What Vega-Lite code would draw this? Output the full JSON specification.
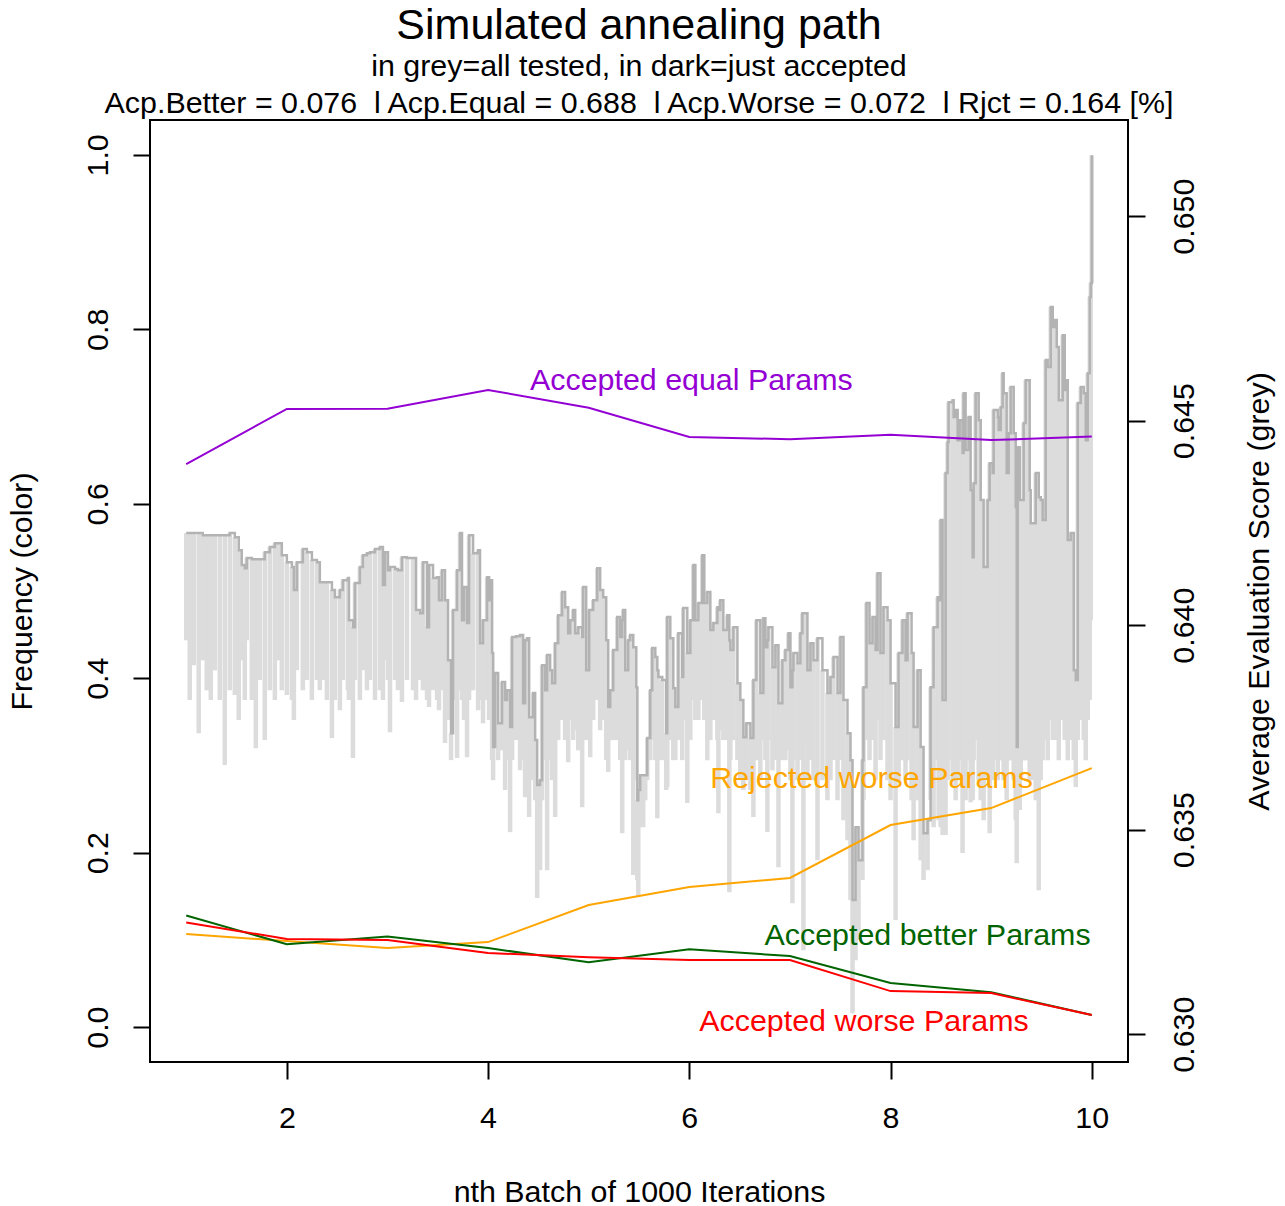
{
  "$schema": "https://vega.github.io/schema/vega-lite/v6.json",
  "width": 978,
  "height": 942,
  "autosize": "none",
  "padding": {"left": 150, "top": 120, "right": 157, "bottom": 144},
  "background": "white",
  "config": {
    "font": "Liberation Sans",
    "view": {"stroke": "black", "strokeWidth": 2},
    "axis": {"grid": false, "domain": false, "tickColor": "black", "tickWidth": 2, "tickSize": 17, "labelFont": "Liberation Sans", "labelFontSize": 30.4, "labelColor": "black", "titleFont": "Liberation Sans", "titleFontSize": 30.4, "titleFontWeight": "normal", "titleColor": "black", "labelFlush": false, "labelOverlap": false}
  },
  "title": {
    "text": "Simulated annealing path",
    "subtitle": ["in grey=all tested, in dark=just accepted", "Acp.Better = 0.076\u00a0 l Acp.Equal = 0.688\u00a0 l Acp.Worse = 0.072\u00a0 l Rjct = 0.164 [%]"],
    "font": "Liberation Sans", "fontSize": 43, "fontWeight": "normal", "color": "black",
    "subtitleFont": "Liberation Sans", "subtitleFontSize": 30.4, "subtitleColor": "black",
    "subtitleLineHeight": 37, "subtitlePadding": 4, "anchor": "middle", "frame": "group", "offset": 1
  },
  "datasets": {
    "path": [
      {"b":1.000,"acc":0.64225,"tst":0.63963},{"b":1.035,"acc":0.64225,"tst":0.63817},{"b":1.075,"acc":0.64225,"tst":0.63902},{"b":1.124,"acc":0.64225,"tst":0.63736},
      {"b":1.164,"acc":0.64220,"tst":0.63914},{"b":1.204,"acc":0.64220,"tst":0.63841},{"b":1.244,"acc":0.64220,"tst":0.63817},{"b":1.284,"acc":0.64220,"tst":0.63890},
      {"b":1.333,"acc":0.64220,"tst":0.63817},{"b":1.383,"acc":0.64220,"tst":0.63658},{"b":1.433,"acc":0.64225,"tst":0.63841},{"b":1.483,"acc":0.64215,"tst":0.63829},
      {"b":1.522,"acc":0.64183,"tst":0.63768},{"b":1.552,"acc":0.64147,"tst":0.63914},{"b":1.582,"acc":0.64139,"tst":0.63817},{"b":1.602,"acc":0.64164,"tst":0.63963},
      {"b":1.652,"acc":0.64161,"tst":0.63817},{"b":1.692,"acc":0.64161,"tst":0.63699},{"b":1.731,"acc":0.64161,"tst":0.63866},{"b":1.781,"acc":0.64178,"tst":0.63719},
      {"b":1.831,"acc":0.64191,"tst":0.63841},{"b":1.881,"acc":0.64200,"tst":0.63817},{"b":1.920,"acc":0.64200,"tst":0.63914},{"b":1.950,"acc":0.64171,"tst":0.63841},
      {"b":2.000,"acc":0.64154,"tst":0.63829},{"b":2.050,"acc":0.64142,"tst":0.63817},{"b":2.070,"acc":0.64086,"tst":0.63768},{"b":2.100,"acc":0.64154,"tst":0.63890},
      {"b":2.159,"acc":0.64186,"tst":0.63841},{"b":2.199,"acc":0.64178,"tst":0.63866},{"b":2.249,"acc":0.64159,"tst":0.63817},{"b":2.299,"acc":0.64154,"tst":0.63866},
      {"b":2.328,"acc":0.64105,"tst":0.63841},{"b":2.368,"acc":0.64105,"tst":0.63866},{"b":2.398,"acc":0.64105,"tst":0.63817},{"b":2.448,"acc":0.64086,"tst":0.63724},
      {"b":2.478,"acc":0.64068,"tst":0.63817},{"b":2.527,"acc":0.64086,"tst":0.63792},
      {"b":2.557,"acc":0.64110,"tst":0.63866},{"b":2.607,"acc":0.64115,"tst":0.63841},{"b":2.617,"acc":0.64012,"tst":0.63817},{"b":2.657,"acc":0.63995,"tst":0.63675},
      {"b":2.677,"acc":0.64103,"tst":0.63866},{"b":2.726,"acc":0.64142,"tst":0.63817},{"b":2.756,"acc":0.64171,"tst":0.63890},{"b":2.796,"acc":0.64176,"tst":0.63841},
      {"b":2.826,"acc":0.64178,"tst":0.63866},{"b":2.876,"acc":0.64186,"tst":0.63817},{"b":2.925,"acc":0.64191,"tst":0.63841},{"b":2.955,"acc":0.64098,"tst":0.63817},
      {"b":2.975,"acc":0.64178,"tst":0.63914},{"b":3.005,"acc":0.64134,"tst":0.63866},{"b":3.025,"acc":0.64142,"tst":0.63738},{"b":3.075,"acc":0.64137,"tst":0.63866},
      {"b":3.104,"acc":0.64134,"tst":0.63841},{"b":3.144,"acc":0.64166,"tst":0.63812},{"b":3.194,"acc":0.64164,"tst":0.63866},{"b":3.254,"acc":0.64164,"tst":0.63841},
      {"b":3.284,"acc":0.64037,"tst":0.63817},{"b":3.323,"acc":0.64029,"tst":0.63866},{"b":3.353,"acc":0.64154,"tst":0.63841},{"b":3.393,"acc":0.63995,"tst":0.63817},
      {"b":3.413,"acc":0.64147,"tst":0.63800},{"b":3.453,"acc":0.64115,"tst":0.63841},{"b":3.493,"acc":0.64117,"tst":0.63817},{"b":3.512,"acc":0.64061,"tst":0.63792},
      {"b":3.542,"acc":0.64134,"tst":0.63841},{"b":3.572,"acc":0.64061,"tst":0.63712},{"b":3.602,"acc":0.63914,"tst":0.63768},{"b":3.632,"acc":0.63736,"tst":0.63670},
      {"b":3.652,"acc":0.64037,"tst":0.63817},{"b":3.692,"acc":0.64134,"tst":0.63675},{"b":3.721,"acc":0.64225,"tst":0.63841},{"b":3.741,"acc":0.64012,"tst":0.63817},
      {"b":3.761,"acc":0.64093,"tst":0.63768},{"b":3.791,"acc":0.64005,"tst":0.63677},{"b":3.811,"acc":0.64220,"tst":0.63817},{"b":3.851,"acc":0.64176,"tst":0.63841},
      {"b":3.901,"acc":0.64183,"tst":0.63792},{"b":3.920,"acc":0.63956,"tst":0.63817},{"b":3.950,"acc":0.64012,"tst":0.63760},{"b":3.990,"acc":0.64117,"tst":0.63817},
      {"b":4.010,"acc":0.64061,"tst":0.63768},
      {"b":4.020,"acc":0.64110,"tst":0.63768},{"b":4.040,"acc":0.63932,"tst":0.63670},{"b":4.050,"acc":0.63702,"tst":0.63621},{"b":4.070,"acc":0.63883,"tst":0.63719},
      {"b":4.100,"acc":0.63760,"tst":0.63670},{"b":4.139,"acc":0.63861,"tst":0.63694},{"b":4.169,"acc":0.63817,"tst":0.63597},{"b":4.189,"acc":0.63841,"tst":0.63670},
      {"b":4.219,"acc":0.63751,"tst":0.63494},{"b":4.239,"acc":0.63971,"tst":0.63670},{"b":4.279,"acc":0.63973,"tst":0.63719},{"b":4.318,"acc":0.63976,"tst":0.63645},
      {"b":4.348,"acc":0.63809,"tst":0.63670},{"b":4.368,"acc":0.63963,"tst":0.63579},{"b":4.388,"acc":0.63968,"tst":0.63670},{"b":4.408,"acc":0.63775,"tst":0.63531},
      {"b":4.448,"acc":0.63834,"tst":0.63621},{"b":4.468,"acc":0.63719,"tst":0.63572},{"b":4.488,"acc":0.63609,"tst":0.63333},{"b":4.517,"acc":0.63621,"tst":0.63401},
      {"b":4.537,"acc":0.63902,"tst":0.63572},{"b":4.567,"acc":0.63841,"tst":0.63670},{"b":4.587,"acc":0.63927,"tst":0.63401},{"b":4.617,"acc":0.63890,"tst":0.63670},
      {"b":4.637,"acc":0.63858,"tst":0.63621},{"b":4.667,"acc":0.63956,"tst":0.63531},{"b":4.697,"acc":0.64024,"tst":0.63719},{"b":4.736,"acc":0.64081,"tst":0.63768},
      {"b":4.766,"acc":0.64044,"tst":0.63719},{"b":4.796,"acc":0.63980,"tst":0.63665},{"b":4.816,"acc":0.64012,"tst":0.63768},{"b":4.846,"acc":0.64037,"tst":0.63719},
      {"b":4.866,"acc":0.63980,"tst":0.63743},{"b":4.896,"acc":0.63995,"tst":0.63694},{"b":4.935,"acc":0.63971,"tst":0.63555},{"b":4.945,"acc":0.64093,"tst":0.63768},
      {"b":4.975,"acc":0.63890,"tst":0.63719},{"b":5.005,"acc":0.64037,"tst":0.63743},{"b":5.015,"acc":0.64037,"tst":0.63677},{"b":5.045,"acc":0.64061,"tst":0.63768},
      {"b":5.085,"acc":0.64139,"tst":0.63817},{"b":5.114,"acc":0.64086,"tst":0.63743},{"b":5.144,"acc":0.64068,"tst":0.63768},{"b":5.174,"acc":0.63963,"tst":0.63670},
      {"b":5.194,"acc":0.63800,"tst":0.63641},{"b":5.214,"acc":0.63841,"tst":0.63719},{"b":5.244,"acc":0.63939,"tst":0.63719},{"b":5.284,"acc":0.64020,"tst":0.63719},
      {"b":5.313,"acc":0.63971,"tst":0.63670},{"b":5.333,"acc":0.64012,"tst":0.63491},{"b":5.343,"acc":0.64037,"tst":0.63719},{"b":5.363,"acc":0.63890,"tst":0.63670},
      {"b":5.393,"acc":0.63963,"tst":0.63694},{"b":5.413,"acc":0.63976,"tst":0.63670},{"b":5.443,"acc":0.63946,"tst":0.63389},{"b":5.473,"acc":0.63848,"tst":0.63621},
      {"b":5.483,"acc":0.63572,"tst":0.63377},{"b":5.493,"acc":0.63597,"tst":0.63335},{"b":5.512,"acc":0.63633,"tst":0.63506},
      {"b":5.542,"acc":0.63633,"tst":0.63506},{"b":5.562,"acc":0.63633,"tst":0.63572},{"b":5.582,"acc":0.63724,"tst":0.63621},{"b":5.612,"acc":0.63841,"tst":0.63670},
      {"b":5.632,"acc":0.63944,"tst":0.63719},{"b":5.662,"acc":0.63922,"tst":0.63670},{"b":5.682,"acc":0.63890,"tst":0.63528},{"b":5.692,"acc":0.63873,"tst":0.63670},
      {"b":5.731,"acc":0.63866,"tst":0.63670},{"b":5.771,"acc":0.63736,"tst":0.63597},{"b":5.781,"acc":0.64020,"tst":0.63604},{"b":5.811,"acc":0.63968,"tst":0.63719},
      {"b":5.841,"acc":0.63846,"tst":0.63670},{"b":5.861,"acc":0.63800,"tst":0.63670},{"b":5.891,"acc":0.63980,"tst":0.63719},{"b":5.930,"acc":0.63873,"tst":0.63670},
      {"b":5.940,"acc":0.64042,"tst":0.63768},{"b":5.980,"acc":0.63932,"tst":0.63565},{"b":6.010,"acc":0.64012,"tst":0.63719},{"b":6.040,"acc":0.64147,"tst":0.63817},
      {"b":6.060,"acc":0.64012,"tst":0.63768},{"b":6.090,"acc":0.64054,"tst":0.63768},{"b":6.129,"acc":0.64171,"tst":0.63817},{"b":6.149,"acc":0.64054,"tst":0.63768},
      {"b":6.179,"acc":0.64081,"tst":0.63670},{"b":6.209,"acc":0.63988,"tst":0.63719},{"b":6.239,"acc":0.64005,"tst":0.63768},{"b":6.279,"acc":0.64044,"tst":0.63719},
      {"b":6.289,"acc":0.64037,"tst":0.63540},{"b":6.308,"acc":0.64061,"tst":0.63743},{"b":6.338,"acc":0.63988,"tst":0.63719},{"b":6.378,"acc":0.64024,"tst":0.63719},
      {"b":6.398,"acc":0.63963,"tst":0.63347},{"b":6.408,"acc":0.63939,"tst":0.63670},{"b":6.438,"acc":0.63995,"tst":0.63719},{"b":6.478,"acc":0.63858,"tst":0.63670},
      {"b":6.507,"acc":0.63817,"tst":0.63621},{"b":6.537,"acc":0.63726,"tst":0.63597},{"b":6.567,"acc":0.63760,"tst":0.63621},{"b":6.607,"acc":0.63724,"tst":0.63597},
      {"b":6.637,"acc":0.63866,"tst":0.63531},{"b":6.667,"acc":0.64012,"tst":0.63670},{"b":6.706,"acc":0.63834,"tst":0.63621},{"b":6.736,"acc":0.64017,"tst":0.63719},
      {"b":6.756,"acc":0.63946,"tst":0.63670},{"b":6.776,"acc":0.63963,"tst":0.63494},{"b":6.786,"acc":0.63995,"tst":0.63719},{"b":6.826,"acc":0.63897,"tst":0.63645},
      {"b":6.856,"acc":0.63951,"tst":0.63670},{"b":6.886,"acc":0.63809,"tst":0.63408},{"b":6.925,"acc":0.63914,"tst":0.63670},{"b":6.955,"acc":0.63939,"tst":0.63670},
      {"b":6.985,"acc":0.63980,"tst":0.63694},
      {"b":7.005,"acc":0.63848,"tst":0.63621},{"b":7.025,"acc":0.63890,"tst":0.63320},{"b":7.035,"acc":0.63932,"tst":0.63670},{"b":7.075,"acc":0.63907,"tst":0.63621},
      {"b":7.104,"acc":0.63980,"tst":0.63670},{"b":7.124,"acc":0.64029,"tst":0.63719},{"b":7.134,"acc":0.64029,"tst":0.63205},{"b":7.154,"acc":0.64029,"tst":0.63719},
      {"b":7.174,"acc":0.63890,"tst":0.63621},{"b":7.204,"acc":0.63956,"tst":0.63670},{"b":7.234,"acc":0.63914,"tst":0.63621},{"b":7.274,"acc":0.63968,"tst":0.63425},
      {"b":7.323,"acc":0.63890,"tst":0.63621},{"b":7.373,"acc":0.63834,"tst":0.63572},{"b":7.403,"acc":0.63873,"tst":0.63621},{"b":7.433,"acc":0.63922,"tst":0.63670},
      {"b":7.473,"acc":0.63834,"tst":0.63572},{"b":7.502,"acc":0.63971,"tst":0.63670},{"b":7.532,"acc":0.63817,"tst":0.63523},{"b":7.572,"acc":0.63736,"tst":0.63474},
      {"b":7.602,"acc":0.63670,"tst":0.63328},{"b":7.622,"acc":0.63328,"tst":0.63051},{"b":7.652,"acc":0.63506,"tst":0.63181},{"b":7.682,"acc":0.63425,"tst":0.63230},
      {"b":7.721,"acc":0.63670,"tst":0.63377},{"b":7.731,"acc":0.63848,"tst":0.63572},{"b":7.761,"acc":0.64054,"tst":0.63719},{"b":7.791,"acc":0.63956,"tst":0.63670},
      {"b":7.821,"acc":0.64020,"tst":0.63719},{"b":7.851,"acc":0.63939,"tst":0.63621},{"b":7.871,"acc":0.64127,"tst":0.63768},{"b":7.900,"acc":0.63932,"tst":0.63670},
      {"b":7.930,"acc":0.64044,"tst":0.63719},{"b":7.970,"acc":0.64012,"tst":0.63621},{"b":8.000,"acc":0.63858,"tst":0.63572},{"b":8.050,"acc":0.63751,"tst":0.63279},
      {"b":8.080,"acc":0.63932,"tst":0.63621},{"b":8.119,"acc":0.64012,"tst":0.63670},{"b":8.149,"acc":0.63914,"tst":0.63621},{"b":8.169,"acc":0.64029,"tst":0.63670},
      {"b":8.209,"acc":0.63932,"tst":0.63572},{"b":8.229,"acc":0.63751,"tst":0.63474},{"b":8.269,"acc":0.63890,"tst":0.63572},{"b":8.299,"acc":0.63702,"tst":0.63425},
      {"b":8.328,"acc":0.63491,"tst":0.63377},{"b":8.368,"acc":0.63523,"tst":0.63401},{"b":8.398,"acc":0.63848,"tst":0.63572},{"b":8.428,"acc":0.63995,"tst":0.63506},
      {"b":8.468,"acc":0.64068,"tst":0.63670},
      {"b":8.478,"acc":0.64061,"tst":0.63523},{"b":8.498,"acc":0.64257,"tst":0.63506},{"b":8.517,"acc":0.63817,"tst":0.63487},{"b":8.547,"acc":0.64372,"tst":0.63487},
      {"b":8.567,"acc":0.64447,"tst":0.63621},{"b":8.577,"acc":0.64545,"tst":0.63670},{"b":8.617,"acc":0.64550,"tst":0.63621},{"b":8.627,"acc":0.64509,"tst":0.63670},
      {"b":8.647,"acc":0.64526,"tst":0.63572},{"b":8.667,"acc":0.64452,"tst":0.63621},{"b":8.687,"acc":0.64501,"tst":0.63670},{"b":8.716,"acc":0.64421,"tst":0.63443},
      {"b":8.726,"acc":0.64567,"tst":0.63670},{"b":8.746,"acc":0.64428,"tst":0.63572},{"b":8.776,"acc":0.64509,"tst":0.63670},{"b":8.796,"acc":0.64330,"tst":0.63567},
      {"b":8.816,"acc":0.64166,"tst":0.63572},{"b":8.826,"acc":0.64347,"tst":0.63670},{"b":8.846,"acc":0.64567,"tst":0.63719},{"b":8.876,"acc":0.64501,"tst":0.63621},
      {"b":8.896,"acc":0.64306,"tst":0.63572},{"b":8.925,"acc":0.64142,"tst":0.63523},{"b":8.965,"acc":0.64306,"tst":0.63621},{"b":8.985,"acc":0.64396,"tst":0.63491},
      {"b":9.015,"acc":0.64372,"tst":0.63621},{"b":9.025,"acc":0.64526,"tst":0.63670},{"b":9.065,"acc":0.64509,"tst":0.63621},{"b":9.075,"acc":0.64477,"tst":0.63670},
      {"b":9.095,"acc":0.64533,"tst":0.63670},{"b":9.114,"acc":0.64616,"tst":0.63719},{"b":9.124,"acc":0.64567,"tst":0.63621},{"b":9.154,"acc":0.64372,"tst":0.63572},
      {"b":9.174,"acc":0.64469,"tst":0.63670},{"b":9.194,"acc":0.64582,"tst":0.63670},{"b":9.224,"acc":0.64469,"tst":0.63621},{"b":9.244,"acc":0.64289,"tst":0.63523},
      {"b":9.254,"acc":0.63702,"tst":0.63418},{"b":9.264,"acc":0.64435,"tst":0.63670},{"b":9.284,"acc":0.64306,"tst":0.63548},{"b":9.294,"acc":0.64306,"tst":0.63621},
      {"b":9.323,"acc":0.64494,"tst":0.63670},{"b":9.343,"acc":0.64599,"tst":0.63670},{"b":9.363,"acc":0.64599,"tst":0.63719},{"b":9.383,"acc":0.64330,"tst":0.63621},
      {"b":9.393,"acc":0.64249,"tst":0.63670},{"b":9.413,"acc":0.64249,"tst":0.63621},{"b":9.443,"acc":0.64372,"tst":0.63572},{"b":9.473,"acc":0.64313,"tst":0.63352},
      {"b":9.493,"acc":0.64306,"tst":0.63621},{"b":9.512,"acc":0.64257,"tst":0.63670},{"b":9.542,"acc":0.64648,"tst":0.63719},{"b":9.562,"acc":0.64631,"tst":0.63670},
      {"b":9.592,"acc":0.64778,"tst":0.63768},{"b":9.612,"acc":0.64729,"tst":0.63719},{"b":9.632,"acc":0.64746,"tst":0.63768},{"b":9.652,"acc":0.64680,"tst":0.63719},
      {"b":9.672,"acc":0.64550,"tst":0.63670},{"b":9.711,"acc":0.64709,"tst":0.63768},{"b":9.731,"acc":0.64575,"tst":0.63719},{"b":9.751,"acc":0.64599,"tst":0.63719},
      {"b":9.761,"acc":0.64208,"tst":0.63670},{"b":9.791,"acc":0.64225,"tst":0.63719},{"b":9.821,"acc":0.63890,"tst":0.63670},{"b":9.841,"acc":0.63866,"tst":0.63604},
      {"b":9.861,"acc":0.64543,"tst":0.63719},{"b":9.891,"acc":0.64582,"tst":0.63768},{"b":9.920,"acc":0.64567,"tst":0.63719},{"b":9.940,"acc":0.64452,"tst":0.63670},
      {"b":9.960,"acc":0.64616,"tst":0.63768},{"b":9.980,"acc":0.64802,"tst":0.63817},{"b":9.990,"acc":0.64836,"tst":0.64012},{"b":10.000,"acc":0.65149,"tst":0.64836}
    ],
    "freq": [
      {"b":1,"series":"equal","f":0.6456},{"b":2,"series":"equal","f":0.7087},{"b":3,"series":"equal","f":0.709},{"b":4,"series":"equal","f":0.7305},{"b":5,"series":"equal","f":0.71},
      {"b":6,"series":"equal","f":0.6766},{"b":7,"series":"equal","f":0.674},{"b":8,"series":"equal","f":0.679},{"b":9,"series":"equal","f":0.673},{"b":10,"series":"equal","f":0.677},
      {"b":1,"series":"rejected","f":0.1067},{"b":2,"series":"rejected","f":0.0986},{"b":3,"series":"rejected","f":0.0906},{"b":4,"series":"rejected","f":0.0975},{"b":5,"series":"rejected","f":0.14},
      {"b":6,"series":"rejected","f":0.1606},{"b":7,"series":"rejected","f":0.171},{"b":8,"series":"rejected","f":0.2317},{"b":9,"series":"rejected","f":0.2511},{"b":10,"series":"rejected","f":0.297},
      {"b":1,"series":"better","f":0.128},{"b":2,"series":"better","f":0.095},{"b":3,"series":"better","f":0.104},{"b":4,"series":"better","f":0.0906},{"b":5,"series":"better","f":0.0745},
      {"b":6,"series":"better","f":0.0894},{"b":7,"series":"better","f":0.0814},{"b":8,"series":"better","f":0.0505},{"b":9,"series":"better","f":0.040},{"b":10,"series":"better","f":0.0138},
      {"b":1,"series":"worse","f":0.120},{"b":2,"series":"worse","f":0.101},{"b":3,"series":"worse","f":0.0998},{"b":4,"series":"worse","f":0.085},{"b":5,"series":"worse","f":0.080},
      {"b":6,"series":"worse","f":0.0768},{"b":7,"series":"worse","f":0.0768},{"b":8,"series":"worse","f":0.0413},{"b":9,"series":"worse","f":0.039},{"b":10,"series":"worse","f":0.0138}
    ],
    "labels": [
      {"series":"equal","label":"Accepted equal Params","b":6.020,"f":0.7408},
      {"series":"rejected","label":"Rejected worse Params","b":7.811,"f":0.2844},
      {"series":"better","label":"Accepted better Params","b":8.368,"f":0.1044},
      {"series":"worse","label":"Accepted worse Params","b":7.736,"f":0.0057}
    ]
  },
  "layer": [
    {
      "data": {"name": "path"},
      "encoding": {
        "x": {"field": "b", "type": "quantitative", "scale": {"domain": [0.64, 10.36], "nice": false, "zero": false},
              "axis": {"values": [2, 4, 6, 8, 10], "format": "d", "labelPadding": 48, "labelBaseline": "alphabetic", "title": "nth Batch of 1000 Iterations", "titleY": 139, "titleBaseline": "alphabetic", "titleAnchor": "middle"}}
      },
      "layer": [
        {
          "mark": {"type": "rule", "color": "#DCDCDC", "strokeWidth": 4.5},
          "encoding": {
            "y": {"field": "tst", "type": "quantitative", "scale": {"domain": [0.62932, 0.65235], "nice": false, "zero": false},
                  "axis": {"orient": "right", "values": [0.63, 0.635, 0.64, 0.645, 0.65], "format": ".3f", "labelAngle": 270, "labelAlign": "center", "labelBaseline": "alphabetic", "labelPadding": 48, "title": "Average Evaluation Score (grey)", "titleAngle": 270, "titleAlign": "center", "titleBaseline": "alphabetic", "titleX": 140, "titleY": 471}},
            "y2": {"field": "acc"}
          }
        },
        {
          "mark": {"type": "line", "color": "#B3B3B3", "strokeWidth": 2.5, "interpolate": "step-after"},
          "encoding": {"y": {"field": "acc", "type": "quantitative"}}
        }
      ]
    },
    {
      "layer": [
        {
          "data": {"name": "freq"},
          "mark": {"type": "line", "strokeWidth": 2},
          "encoding": {
            "x": {"field": "b", "type": "quantitative"},
            "y": {"field": "f", "type": "quantitative", "scale": {"domain": [-0.04, 1.04], "nice": false, "zero": false},
                  "axis": {"orient": "left", "values": [0, 0.2, 0.4, 0.6, 0.8, 1.0], "format": ".1f", "labelAngle": 270, "labelAlign": "center", "labelBaseline": "alphabetic", "labelPadding": 26, "title": "Frequency (color)", "titleAngle": 270, "titleAlign": "center", "titleBaseline": "alphabetic", "titleX": -119, "titleY": 471}},
            "color": {"field": "series", "type": "nominal", "scale": {"domain": ["equal", "rejected", "better", "worse"], "range": ["#9400D3", "#FFA500", "#006400", "#FF0000"]}, "legend": null},
            "detail": {"field": "series"}
          }
        },
        {
          "data": {"name": "labels"},
          "mark": {"type": "text", "fontSize": 30.4, "font": "Liberation Sans", "align": "center", "baseline": "middle"},
          "encoding": {
            "x": {"field": "b", "type": "quantitative"},
            "y": {"field": "f", "type": "quantitative"},
            "text": {"field": "label"},
            "color": {"field": "series", "type": "nominal", "legend": null}
          }
        }
      ]
    }
  ],
  "resolve": {"scale": {"y": "independent"}}
}
